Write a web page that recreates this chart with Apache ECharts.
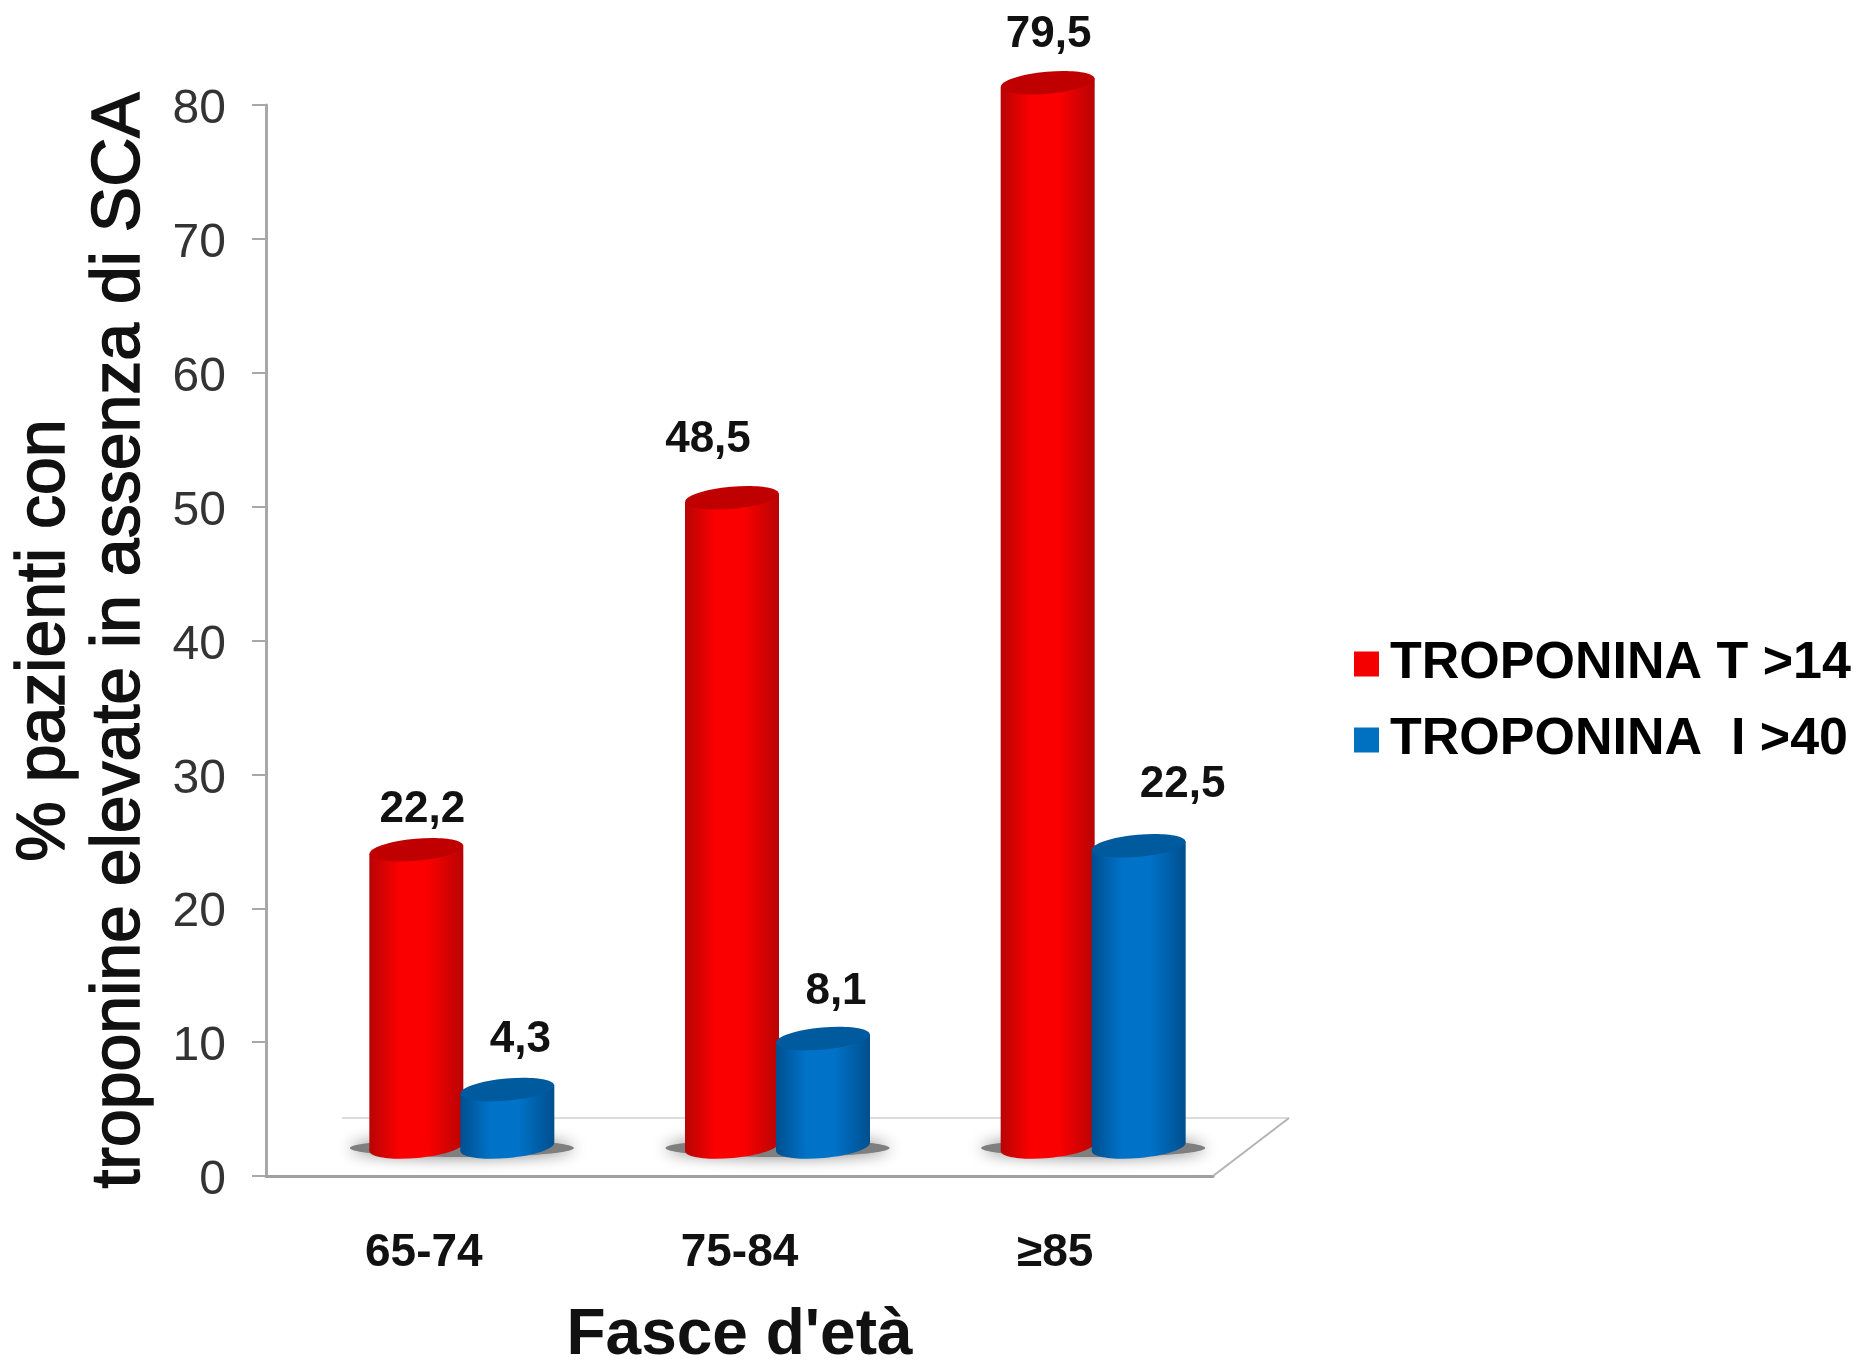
<!DOCTYPE html>
<html><head><meta charset="utf-8">
<style>html,body{margin:0;padding:0;background:#fff}#c{width:1864px;height:1362px}</style>
<script src="https://cdn.jsdelivr.net/npm/echarts@6/dist/echarts.min.js"></script>
</head><body><div id="c"></div>
<script>
const categories = ['65-74', '75-84', '≥85'];
const troponinaT = [22.2, 48.5, 79.5];
const troponinaI = [4.3, 8.1, 22.5];
const yTicks = { min: 0, max: 80, interval: 10 };
const seriesNames = ['TROPONINA T >14', 'TROPONINA  I >40'];

const FONT = '"Liberation Sans", Arial, sans-serif';
const DEPTH_X = 76, DEPTH_Y = 58;
const MID_X = DEPTH_X / 2, MID_Y = 29;
const BAR_W = 94, BAR_SHIFT = 45.5, TILT = 0.09;
const TOP_RY = 11;
const labelNudge = {
  t: [[6, -40], [-24, -58], [1, -48]],
  i: [[13, -50], [13, -47], [44, -61]]
};

const chart = echarts.init(document.getElementById('c'));

function grad(edge, mid) {
  return new echarts.graphic.LinearGradient(0, 0, 1, 0, [
    { offset: 0, color: edge }, { offset: 0.32, color: mid },
    { offset: 0.62, color: mid }, { offset: 1, color: edge }
  ]);
}

function cylinder(pal, shift, nudges) {
  return function (params, api) {
    const i = api.value(0), v = api.value(1);
    const top = api.coord([i, v]), base = api.coord([i, 0]);
    const cx = top[0] + MID_X + shift;
    const yt = top[1] - MID_Y, yb = base[1] - MID_Y;
    const rx = BAR_W / 2, k = rx * Math.sin(TILT);
    const fill = grad(pal.edge, pal.mid);
    const n = nudges[params.dataIndex];
    return {
      type: 'group',
      children: [
        { type: 'ellipse', x: cx, y: yb, rotation: TILT, shape: { cx: 0, cy: 0, rx: rx, ry: 11 }, style: { fill: fill } },
        { type: 'polygon', shape: { points: [[cx - rx, yt + k], [cx + rx, yt - k], [cx + rx, yb - k], [cx - rx, yb + k]] }, style: { fill: fill } },
        { type: 'ellipse', x: cx, y: yt, rotation: TILT, shape: { cx: 0, cy: 0, rx: rx, ry: TOP_RY }, style: { fill: pal.top } },
        { type: 'text', x: cx + n[0], y: yt + n[1], style: {
            text: String(v).replace('.', ','), fill: '#111', align: 'center', verticalAlign: 'middle',
            font: 'bold 44px ' + FONT } }
      ]
    };
  };
}

function floor(params, api) {
  const g = params.coordSys;
  const l = g.x, r = g.x + g.width, b = g.y + g.height;
  const c = api.coord([api.value(0), 0]);
  const kids = [
    { type: 'ellipse', x: c[0] + MID_X, y: c[1] - MID_Y + 1, shape: { cx: 0, cy: 0, rx: 112, ry: 9 },
      style: { fill: '#7f7f7f', shadowBlur: 16, shadowColor: '#808080' } }
  ];
  if (params.dataIndex === 0) {
    kids.unshift(
      { type: 'line', shape: { x1: l + DEPTH_X, y1: b - DEPTH_Y, x2: r + DEPTH_X, y2: b - DEPTH_Y }, style: { stroke: '#dcdcdc', lineWidth: 2 } },
      { type: 'line', shape: { x1: r, y1: b, x2: r + DEPTH_X, y2: b - DEPTH_Y }, style: { stroke: '#b4b4b4', lineWidth: 2 } }
    );
  }
  return { type: 'group', children: kids };
}

const redPal = { edge: '#b80404', mid: '#fb0000', top: '#c00000' };
const bluePal = { edge: '#004f8e', mid: '#0072c8', top: '#005a9e' };

chart.setOption({
  animation: false,
  backgroundColor: '#ffffff',
  textStyle: { fontFamily: FONT },
  grid: { left: 266, top: 105, width: 947, height: 1071, outerBoundsMode: 'none' },
  legend: {
    left: 1349, top: 633, orient: 'vertical', itemWidth: 25, itemHeight: 25, itemGap: 24,
    icon: 'rect', data: seriesNames,
    textStyle: { fontFamily: FONT, fontSize: 52, fontWeight: 'bold', color: '#000', padding: [6, 0, 0, 6] }
  },
  xAxis: {
    type: 'category', data: categories, boundaryGap: true,
    axisLine: { lineStyle: { color: '#a0a0a0', width: 3 } }, axisTick: { show: false },
    axisLabel: { fontFamily: FONT, fontSize: 46, fontWeight: 'bold', color: '#111', margin: 54 },
    name: "Fasce d'età", nameLocation: 'middle', nameGap: 128,
    nameTextStyle: { fontFamily: FONT, fontSize: 64, fontWeight: 'bold', color: '#111' }
  },
  yAxis: {
    type: 'value', min: yTicks.min, max: yTicks.max, interval: yTicks.interval,
    splitLine: { show: false },
    axisLine: { show: true, lineStyle: { color: '#a8a8a8', width: 3 } },
    axisTick: { show: true, length: 14, lineStyle: { color: '#a8a8a8', width: 2 } },
    axisLabel: { margin: 40, formatter: '{n|{value}}',
      rich: { n: { fontFamily: FONT, fontSize: 48, color: '#333', padding: [10, 0, 0, 0] } } },
    name: '% pazienti con\ntroponine elevate in assenza di SCA',
    nameLocation: 'middle', nameRotate: 90, nameGap: 108,
    nameTextStyle: { fontFamily: FONT, fontSize: 68, fontWeight: 'normal', color: '#111', lineHeight: 75,
      textBorderColor: '#111', textBorderWidth: 1.5 }
  },
  series: [
    { type: 'custom', name: 'floor', silent: true, z: 1, renderItem: floor,
      data: categories.map((c, i) => [i]), encode: { x: 0 } },
    { type: 'custom', name: seriesNames[0], z: 2, renderItem: cylinder(redPal, -BAR_SHIFT, labelNudge.t),
      itemStyle: { color: '#f40000' }, data: troponinaT.map((v, i) => [i, v]), encode: { x: 0, y: 1 } },
    { type: 'custom', name: seriesNames[1], z: 3, renderItem: cylinder(bluePal, BAR_SHIFT, labelNudge.i),
      itemStyle: { color: '#0070c0' }, data: troponinaI.map((v, i) => [i, v]), encode: { x: 0, y: 1 } }
  ]
});
</script></body></html>
